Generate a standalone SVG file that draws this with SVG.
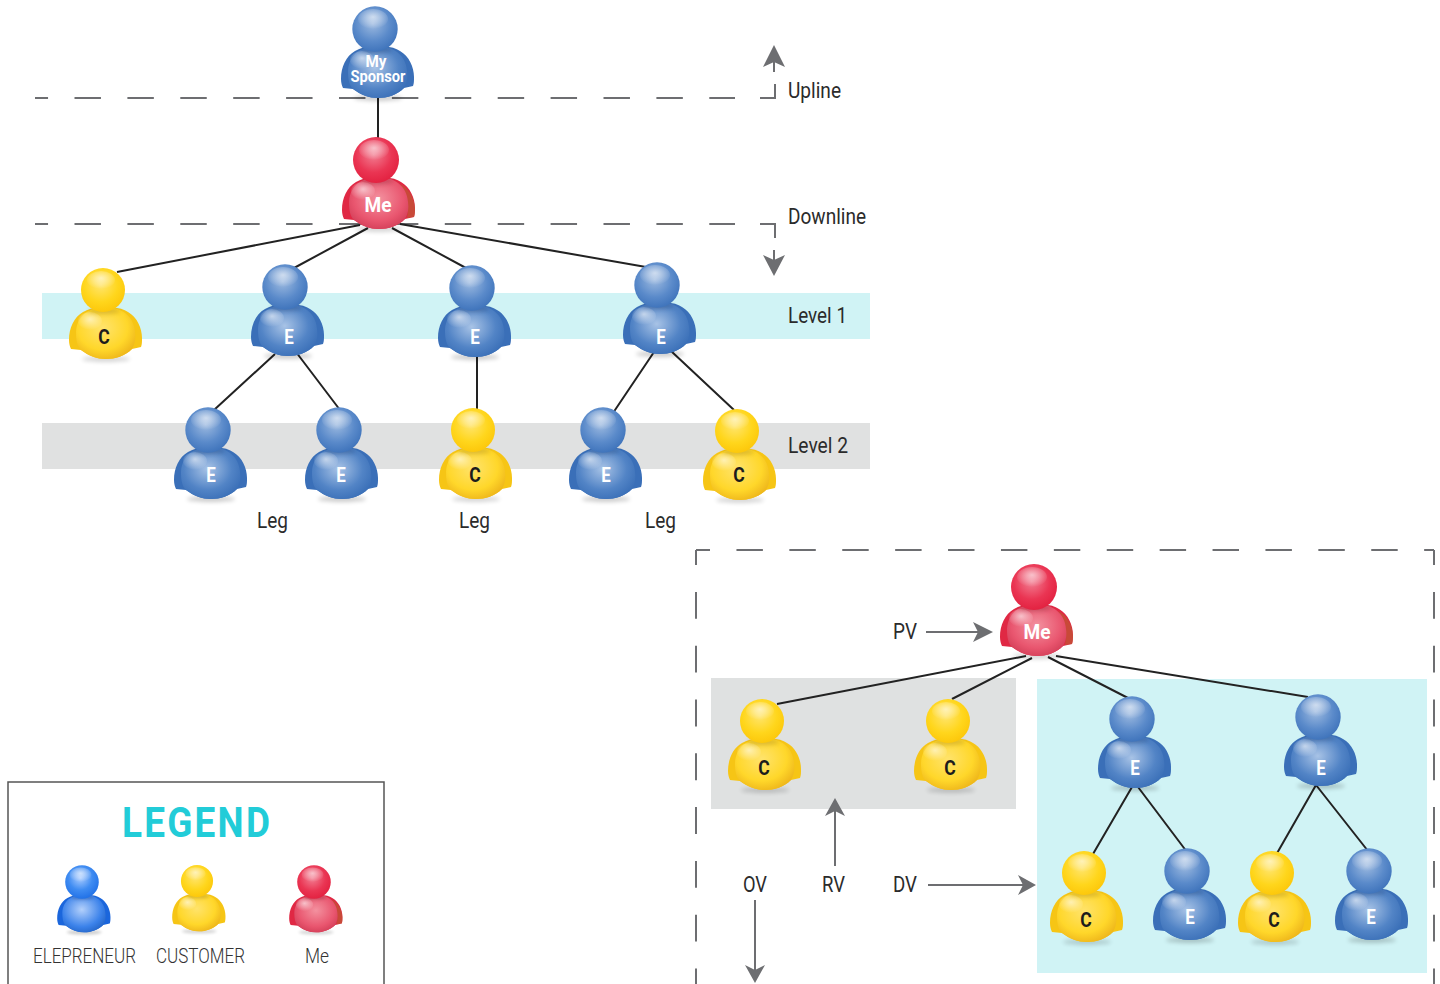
<svg xmlns="http://www.w3.org/2000/svg" xmlns:xlink="http://www.w3.org/1999/xlink" width="1440" height="984" viewBox="0 0 1440 984">
<style>
.t{font-family:"Roboto","Liberation Sans",sans-serif;font-size:22px;fill:#2b2b2b}
.l{font-family:"Roboto","Liberation Sans",sans-serif;font-size:20px;font-weight:300;fill:#333}
.nw{font-family:"Roboto","Liberation Sans",sans-serif;font-weight:700;font-size:21px;fill:#fff;text-anchor:middle}
.nk{font-family:"Roboto","Liberation Sans",sans-serif;font-weight:700;font-size:21px;fill:#1c1c1c;text-anchor:middle}
.c{stroke:#222;stroke-width:2;fill:none}
.d{stroke:#6d6e71;stroke-width:2;fill:none;stroke-dasharray:26.45 26.45}
.v{stroke:#6d6e71;stroke-width:2;fill:none;stroke-dasharray:26.9 26.9}
.g{stroke:#6d6e71;stroke-width:2;fill:none}
.h{fill:#6d6e71}
</style>
<defs>
<filter id="blur" x="-30%" y="-60%" width="160%" height="220%"><feGaussianBlur stdDeviation="2"/></filter>
<radialGradient id="shine" cx=".5" cy=".4" r=".6"><stop offset="0" stop-color="#fff" stop-opacity=".6"/><stop offset="1" stop-color="#fff" stop-opacity="0"/></radialGradient>
<radialGradient id="hb" cx=".45" cy=".38" r=".65"><stop offset="0" stop-color="#9dbae0"/><stop offset=".6" stop-color="#5a8aca"/><stop offset="1" stop-color="#3d72ba"/></radialGradient>
<radialGradient id="bb" cx=".45" cy=".42" r=".62"><stop offset="0" stop-color="#a8c3e6"/><stop offset=".65" stop-color="#5284c6"/><stop offset="1" stop-color="#3b70b8"/></radialGradient>
<radialGradient id="hy" cx=".45" cy=".38" r=".65"><stop offset="0" stop-color="#ffe56f"/><stop offset=".6" stop-color="#ffd61c"/><stop offset="1" stop-color="#fcc609"/></radialGradient>
<radialGradient id="by" cx=".45" cy=".4" r=".65"><stop offset="0" stop-color="#ffe36c"/><stop offset=".65" stop-color="#ffd72a"/><stop offset="1" stop-color="#edb41a"/></radialGradient>
<radialGradient id="hr" cx=".45" cy=".38" r=".65"><stop offset="0" stop-color="#f27f93"/><stop offset=".6" stop-color="#ea3553"/><stop offset="1" stop-color="#e2203f"/></radialGradient>
<radialGradient id="br" cx=".5" cy=".42" r=".65"><stop offset="0" stop-color="#f3919f"/><stop offset=".65" stop-color="#e9566f"/><stop offset="1" stop-color="#cf3a54"/></radialGradient>
<radialGradient id="hB" cx=".45" cy=".38" r=".65"><stop offset="0" stop-color="#a8cbff"/><stop offset=".55" stop-color="#3f8cf2"/><stop offset="1" stop-color="#1f6fe6"/></radialGradient>
<radialGradient id="bB" cx=".45" cy=".4" r=".7"><stop offset="0" stop-color="#b3d0fb"/><stop offset=".65" stop-color="#3b82ea"/><stop offset="1" stop-color="#1f5fc0"/></radialGradient>
<path id="sil" d="M3,18C-6,17-14,18-20,22C-29,27-34,38-34,50C-34,54-33,57-32,59L-22,60C-14,66-6,69 3,69C12,69 22,66 29,59L38,57C39,54 39,52 39,48C39,38 34,27 25,22C20,18 12,17 3,18Z"/>
<path id="tor" d="M3,17C-12,17-26,24-27,42C-27,50-26,56-22,60C-14,66-6,69 3,69C12,69 22,66 29,59C32,54 33,48 32,42C31,26 18,17 3,17Z"/>
<g id="pb"><ellipse cx="3" cy="69" rx="24" ry="3" fill="#000" opacity=".2" filter="url(#blur)"/><use xlink:href="#sil" fill="#3a6fb8"/><use xlink:href="#tor" fill="url(#bb)"/><ellipse cx="-13" cy="31" rx="12" ry="9" fill="url(#shine)"/><ellipse cx="1" cy="21" rx="16" ry="3" fill="#1e3d70" opacity=".35" filter="url(#blur)"/><circle r="22.7" fill="url(#hb)"/><ellipse cx="-2" cy="-10" rx="15" ry="10" fill="url(#shine)"/></g>
<g id="py"><ellipse cx="3" cy="69" rx="24" ry="3" fill="#000" opacity=".16" filter="url(#blur)"/><use xlink:href="#sil" fill="#f6c515"/><use xlink:href="#tor" fill="url(#by)"/><ellipse cx="-13" cy="31" rx="12" ry="9" fill="url(#shine)"/><ellipse cx="1" cy="21" rx="16" ry="3" fill="#8a6a10" opacity=".3" filter="url(#blur)"/><circle r="22" fill="url(#hy)"/><ellipse cx="-2" cy="-10" rx="14" ry="9" fill="url(#shine)"/></g>
<g id="pr"><ellipse cx="3" cy="69" rx="24" ry="3" fill="#000" opacity=".16" filter="url(#blur)"/><use xlink:href="#sil" fill="#e02844"/><path d="M24,24C33,28 38,38 39,48C39,52 39,54 38,57L31,58C33,48 32,34 24,24Z" fill="#b5652f" opacity=".55"/><use xlink:href="#tor" fill="url(#br)"/><ellipse cx="-13" cy="31" rx="12" ry="9" fill="url(#shine)"/><ellipse cx="1" cy="21" rx="16" ry="3" fill="#701424" opacity=".3" filter="url(#blur)"/><circle r="23" fill="url(#hr)"/><ellipse cx="-2" cy="-10" rx="15" ry="10" fill="url(#shine)"/></g>
<g id="pB"><ellipse cx="3" cy="69" rx="24" ry="3" fill="#000" opacity=".2" filter="url(#blur)"/><use xlink:href="#sil" fill="#1b66dc"/><use xlink:href="#tor" fill="url(#bB)"/><ellipse cx="1" cy="21" rx="16" ry="3" fill="#123a80" opacity=".35" filter="url(#blur)"/><circle r="23" fill="url(#hB)"/><ellipse cx="-2" cy="-10" rx="15" ry="10" fill="url(#shine)"/></g>
</defs>
<rect width="1440" height="984" fill="#fff"/>
<g id="bands">
<rect x="42" y="293" width="828" height="46" fill="#d0f3f5"/>
<rect x="42" y="423" width="828" height="46" fill="#e0e1e1"/>
<rect x="711" y="678" width="305" height="131" fill="#dfe1e1"/>
<rect x="1037" y="679" width="390" height="294" fill="#d0f3f5"/>
</g>
<g id="guides">
<path class="d" stroke-dashoffset="13.4" d="M35,98H735"/>
<path class="d" stroke-dashoffset="13.4" d="M35,224H735"/>
<path class="g" d="M760,98H775V84"/>
<path class="g" d="M774,72V58"/>
<path class="h" d="M774,45L785,67L774,62L763,67Z"/>
<path class="g" d="M760,224H775V238"/>
<path class="g" d="M774,250V264"/>
<path class="h" d="M774,276L763,255L774,260L785,255Z"/>
<path class="d" stroke-dashoffset="12.45" d="M696,550H1434"/>
<path class="v" stroke-dashoffset="11.9" d="M696,550V984"/>
<path class="v" stroke-dashoffset="11.9" d="M1434,550V984"/>
<path class="g" d="M926,632H982"/>
<path class="h" d="M993,632L973,622L978,632L973,642Z"/>
<path class="g" d="M835,866V808"/>
<path class="h" d="M835,798L825,816L835,811L845,816Z"/>
<path class="g" d="M928,885H1026"/>
<path class="h" d="M1036,885L1018,875L1023,885L1018,895Z"/>
<path class="g" d="M755,900V972"/>
<path class="h" d="M755,983L745,965L755,970L765,965Z"/>
</g>
<g id="connectors">
<path class="c" d="M378,95V140"/>
<path class="c" d="M360,225L117,272M368,228L294,268M392,228L466,268M400,224L646,267"/>
<path class="c" d="M275,354L214,410M296,352L340,410M477,355V412M654,352L613,413M671,351L734,410"/>
<path class="c" d="M1026,656L777,704M1032,658L952,699M1048,657L1128,698M1056,656L1308,697"/>
<path class="c" d="M1132,787L1093,854M1138,787L1187,852M1316,785L1276,855M1316,785L1368,851"/>
</g>
<g id="n-sponsor"><use xlink:href="#pb" x="375" y="29"/><text class="nw" style="font-size:16px" x="376" y="67" textLength="21" lengthAdjust="spacingAndGlyphs">My</text><text class="nw" style="font-size:16px" x="378" y="82" textLength="55" lengthAdjust="spacingAndGlyphs">Sponsor</text></g>
<g id="n-me"><use xlink:href="#pr" x="376" y="160"/><text class="nw" x="378" y="212" textLength="27" lengthAdjust="spacingAndGlyphs">Me</text></g>
<g id="n-l1a"><use xlink:href="#py" x="103" y="290"/><text class="nk" x="104" y="344" textLength="11.5" lengthAdjust="spacingAndGlyphs">C</text></g>
<g id="n-l1b"><use xlink:href="#pb" x="285" y="287"/><text class="nw" x="289" y="344" textLength="9.5" lengthAdjust="spacingAndGlyphs">E</text></g>
<g id="n-l1c"><use xlink:href="#pb" x="472" y="288"/><text class="nw" x="475" y="344" textLength="9.5" lengthAdjust="spacingAndGlyphs">E</text></g>
<g id="n-l1d"><use xlink:href="#pb" x="657" y="285"/><text class="nw" x="661" y="344" textLength="9.5" lengthAdjust="spacingAndGlyphs">E</text></g>
<g id="n-l2a"><use xlink:href="#pb" x="208" y="430"/><text class="nw" x="211" y="482" textLength="9.5" lengthAdjust="spacingAndGlyphs">E</text></g>
<g id="n-l2b"><use xlink:href="#pb" x="339" y="430"/><text class="nw" x="341" y="482" textLength="9.5" lengthAdjust="spacingAndGlyphs">E</text></g>
<g id="n-l2c"><use xlink:href="#py" x="473" y="430"/><text class="nk" x="475" y="482" textLength="11.5" lengthAdjust="spacingAndGlyphs">C</text></g>
<g id="n-l2d"><use xlink:href="#pb" x="603" y="430"/><text class="nw" x="606" y="482" textLength="9.5" lengthAdjust="spacingAndGlyphs">E</text></g>
<g id="n-l2e"><use xlink:href="#py" x="737" y="431"/><text class="nk" x="739" y="482" textLength="11.5" lengthAdjust="spacingAndGlyphs">C</text></g>
<g id="n2-me"><use xlink:href="#pr" x="1034" y="587"/><text class="nw" x="1037" y="639" textLength="27" lengthAdjust="spacingAndGlyphs">Me</text></g>
<g id="n2-c1"><use xlink:href="#py" x="762" y="721"/><text class="nk" x="764" y="775" textLength="11.5" lengthAdjust="spacingAndGlyphs">C</text></g>
<g id="n2-c2"><use xlink:href="#py" x="948" y="721"/><text class="nk" x="950" y="775" textLength="11.5" lengthAdjust="spacingAndGlyphs">C</text></g>
<g id="n2-e1"><use xlink:href="#pb" x="1132" y="719"/><text class="nw" x="1135" y="775" textLength="9.5" lengthAdjust="spacingAndGlyphs">E</text></g>
<g id="n2-e2"><use xlink:href="#pb" x="1318" y="717"/><text class="nw" x="1321" y="775" textLength="9.5" lengthAdjust="spacingAndGlyphs">E</text></g>
<g id="n2-c3"><use xlink:href="#py" x="1084" y="873"/><text class="nk" x="1086" y="927" textLength="11.5" lengthAdjust="spacingAndGlyphs">C</text></g>
<g id="n2-e3"><use xlink:href="#pb" x="1187" y="871"/><text class="nw" x="1190" y="924" textLength="9.5" lengthAdjust="spacingAndGlyphs">E</text></g>
<g id="n2-c4"><use xlink:href="#py" x="1272" y="873"/><text class="nk" x="1274" y="927" textLength="11.5" lengthAdjust="spacingAndGlyphs">C</text></g>
<g id="n2-e4"><use xlink:href="#pb" x="1369" y="871"/><text class="nw" x="1371" y="924" textLength="9.5" lengthAdjust="spacingAndGlyphs">E</text></g>
<g id="labels">
<text class="t" x="788" y="98" textLength="53" lengthAdjust="spacingAndGlyphs">Upline</text>
<text class="t" x="788" y="224" textLength="78" lengthAdjust="spacingAndGlyphs">Downline</text>
<text class="t" x="788" y="323" textLength="59" lengthAdjust="spacingAndGlyphs">Level 1</text>
<text class="t" x="788" y="453" textLength="60" lengthAdjust="spacingAndGlyphs">Level 2</text>
<text class="t" x="257" y="528" textLength="31" lengthAdjust="spacingAndGlyphs">Leg</text>
<text class="t" x="459" y="528" textLength="31" lengthAdjust="spacingAndGlyphs">Leg</text>
<text class="t" x="645" y="528" textLength="31" lengthAdjust="spacingAndGlyphs">Leg</text>
<text class="t" x="893" y="639" textLength="24" lengthAdjust="spacingAndGlyphs">PV</text>
<text class="t" x="743" y="892" textLength="24" lengthAdjust="spacingAndGlyphs">OV</text>
<text class="t" x="822" y="892" textLength="23" lengthAdjust="spacingAndGlyphs">RV</text>
<text class="t" x="893" y="892" textLength="24" lengthAdjust="spacingAndGlyphs">DV</text>
</g>
<g id="legend">
<rect x="8" y="782" width="376" height="210" fill="none" stroke="#555" stroke-width="1.5"/>
<text transform="translate(122,837) scale(.86,1)" font-family="Roboto,'Liberation Sans',sans-serif" font-weight="700" font-size="43" fill="#22ccd8" textLength="172" lengthAdjust="spacing">LEGEND</text>
<g id="legend-e"><use xlink:href="#pB" transform="translate(82,882) scale(.73)"/><text class="l" x="33" y="963" textLength="103" lengthAdjust="spacingAndGlyphs">ELEPRENEUR</text></g>
<g id="legend-c"><use xlink:href="#py" transform="translate(197,881) scale(.73)"/><text class="l" x="156" y="963" textLength="89" lengthAdjust="spacingAndGlyphs">CUSTOMER</text></g>
<g id="legend-m"><use xlink:href="#pr" transform="translate(314,882) scale(.73)"/><text class="l" x="305" y="963" textLength="24" lengthAdjust="spacingAndGlyphs">Me</text></g>
</g>
</svg>
